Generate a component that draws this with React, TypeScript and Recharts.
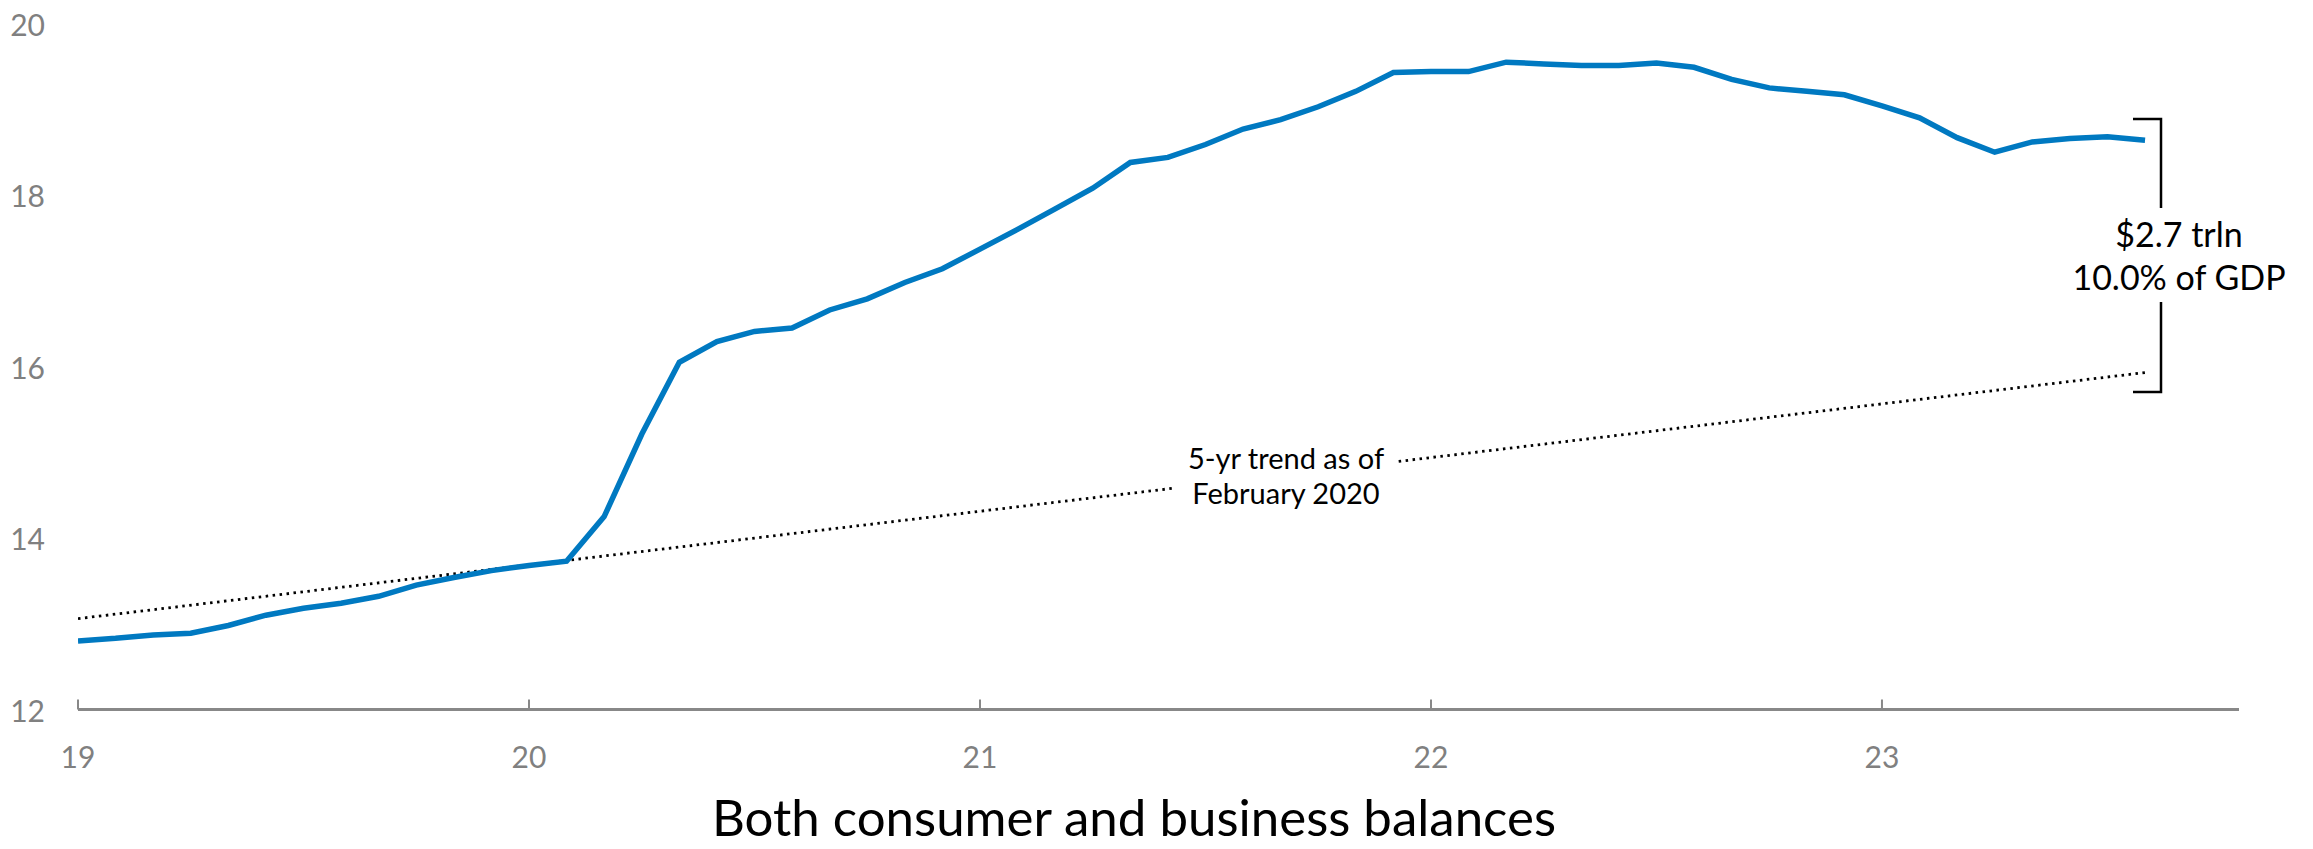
import React from "react";
import { LineChart, Line, XAxis, YAxis } from "recharts";

// Monthly balances, Jan 2019 - Aug 2023 ($ trillions)
const balances = [
  12.8, 12.83, 12.87, 12.89, 12.98, 13.1, 13.18, 13.24, 13.32, 13.45, 13.54, 13.62,
  13.68, 13.73, 14.25, 15.21, 16.05, 16.29, 16.41, 16.45, 16.66, 16.79, 16.98, 17.14,
  17.37, 17.6, 17.84, 18.08, 18.38, 18.44, 18.59, 18.77, 18.88, 19.03, 19.21, 19.43,
  19.44, 19.44, 19.55, 19.53, 19.51, 19.51, 19.54, 19.49, 19.35, 19.25, 19.21, 19.17,
  19.04, 18.9, 18.67, 18.5, 18.62, 18.66, 18.68, 18.64,
];
// 5-yr trend as of February 2020: value at first and last month
const trendEnds = [13.06, 15.93];
const yearLabels = ["19", "20", "21", "22", "23"];
const yearTickIdx = [0, 12, 24, 36, 48];
const yTicks = [12, 14, 16, 18, 20];

const data = balances.map((v, i) => ({
  i,
  balance: v,
  trend: i === 0 ? trendEnds[0] : i === balances.length - 1 ? trendEnds[1] : null,
}));

const FONT = "Lato, 'Open Sans', sans-serif";
const GREY = "#808080";

const XTick = (props: any) => {
  const { x, y, payload } = props;
  const idx = yearTickIdx.indexOf(payload.value);
  return (
    <g>
      <line x1={x} x2={x} y1={y - 10} y2={y} stroke="#888" strokeWidth={2} />
      <text x={x} y={y + 46} textAnchor="middle" dominantBaseline="central" fontSize={30} fill={GREY} fontFamily={FONT}>
        {idx >= 0 ? yearLabels[idx] : ""}
      </text>
    </g>
  );
};

const YTick = (props: any) => {
  const { y, payload } = props;
  return (
    <text x={45} y={y} textAnchor="end" dominantBaseline="central" fontSize={30} fill={GREY} fontFamily={FONT}>
      {payload.value}
    </text>
  );
};

export default function App() {
  return (
    <div style={{ position: "absolute", left: 0, top: 0, width: 2313, height: 849, background: "#fff" }}>
      <LineChart
        width={2313}
        height={849}
        data={data}
        margin={{ top: 23.6, right: 74, bottom: 0, left: 0 }}
      >
        <XAxis
          dataKey="i"
          type="number"
          domain={[0, 57.5]}
          ticks={yearTickIdx}
          tick={<XTick />}
          tickLine={false}
          tickSize={0}
          tickMargin={0}
          height={139.5}
          axisLine={{ stroke: "#888", strokeWidth: 3 }}
          allowDataOverflow
          interval={0}
        />
        <YAxis
          type="number"
          domain={[12, 20]}
          ticks={yTicks}
          width={78}
          axisLine={false}
          tickLine={false}
          tickSize={0}
          tick={<YTick />}
          interval={0}
        />
        <Line
          dataKey="trend"
          stroke="#000"
          strokeWidth={2.8}
          strokeDasharray="2.5 4.5"
          dot={false}
          connectNulls
          isAnimationActive={false}
        />
        <Line
          dataKey="balance"
          stroke="#0079C1"
          strokeWidth={5.5}
          dot={false}
          isAnimationActive={false}
        />
      </LineChart>
      <svg
        width={2313}
        height={849}
        style={{ position: "absolute", left: 0, top: 0, pointerEvents: "none" }}
      >
        <rect x={1174} y={440} width={222} height={72} fill="#fff" />
        <text x={1286} y={469} textAnchor="middle" fontSize={29} fontFamily={FONT} fill="#000">
          5-yr trend as of
        </text>
        <text x={1286} y={504} textAnchor="middle" fontSize={29} fontFamily={FONT} fill="#000">
          February 2020
        </text>
        <path d="M2133 119 H2161 V208 M2161 302 V392 H2133" fill="none" stroke="#000" strokeWidth={2.5} />
        <text x={2179} y={247} textAnchor="middle" fontSize={34} fontFamily={FONT} fill="#000">
          $2.7 trln
        </text>
        <text x={2179} y={290} textAnchor="middle" fontSize={34} fontFamily={FONT} fill="#000">
          10.0% of GDP
        </text>
        <text x={1134} y={836} textAnchor="middle" fontSize={51} fontFamily={FONT} fill="#000">
          Both consumer and business balances
        </text>
      </svg>
    </div>
  );
}
